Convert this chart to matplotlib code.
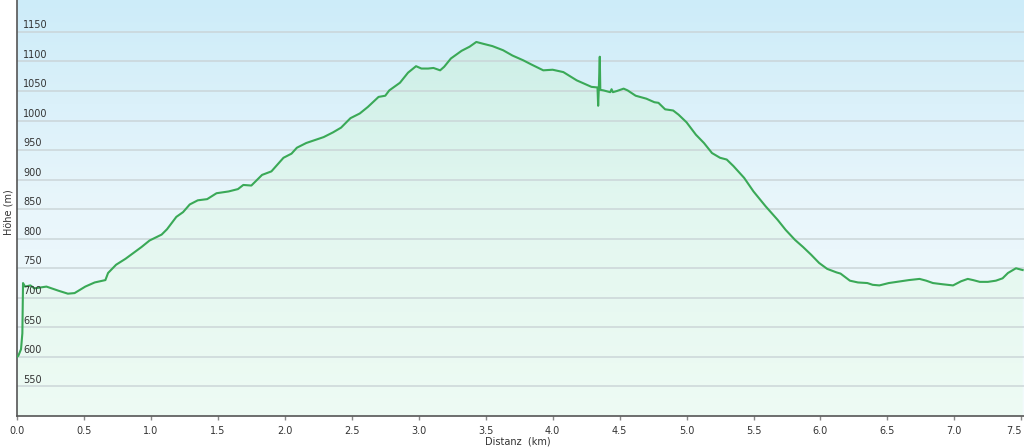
import numpy as np
import matplotlib
matplotlib.use("Agg")
import matplotlib.pyplot as plt
from matplotlib.colors import LinearSegmentedColormap
from matplotlib.patches import Polygon

distance_km = [0.00, 0.01, 0.03, 0.04, 0.045, 0.06, 0.10, 0.13, 0.22, 0.31, 0.38, 0.43,
               0.51, 0.58, 0.66, 0.68, 0.74, 0.81, 0.87, 0.93, 0.99, 1.08, 1.12,
               1.19, 1.24, 1.29, 1.35, 1.42, 1.49, 1.58, 1.65, 1.69, 1.75, 1.83,
               1.90, 1.99, 2.05, 2.09, 2.16, 2.29, 2.36, 2.42, 2.49, 2.56, 2.62,
               2.70, 2.75, 2.78, 2.86, 2.92, 2.98, 3.02, 3.07, 3.11, 3.16, 3.19,
               3.24, 3.32, 3.38, 3.43, 3.48, 3.55, 3.63, 3.70, 3.78, 3.84, 3.93,
               4.00, 4.08, 4.18, 4.29, 4.335, 4.340, 4.345, 4.352, 4.356, 4.38,
               4.43, 4.44, 4.45, 4.48, 4.53, 4.56, 4.62, 4.70, 4.76, 4.79, 4.84,
               4.90, 4.94, 5.00, 5.07, 5.13, 5.19, 5.25, 5.30, 5.35, 5.43, 5.50,
               5.59, 5.68, 5.74, 5.81, 5.87, 5.93, 5.99, 6.05, 6.12, 6.15, 6.22,
               6.28, 6.35, 6.39, 6.44, 6.51, 6.60, 6.66, 6.74, 6.79, 6.84, 6.91,
               6.99, 7.05, 7.10, 7.14, 7.19, 7.25, 7.31, 7.36, 7.40, 7.46, 7.51]
elevation_m = [600, 602, 613, 640, 725, 719, 721, 716, 719, 712, 707, 708,
               719, 726, 730, 742, 756, 766, 776, 786, 797, 807, 816,
               837, 845, 858, 865, 867, 877, 880, 884, 891, 890, 908,
               914, 937, 944, 954, 962, 972, 980, 988, 1004, 1012, 1023,
               1040, 1042, 1051, 1064, 1081, 1092, 1088, 1088, 1089, 1085, 1091,
               1105, 1118, 1125, 1133, 1130, 1126, 1119, 1110, 1102, 1095, 1085,
               1086, 1082, 1068, 1057, 1056, 1025, 1055, 1108, 1052, 1051,
               1048, 1053, 1048, 1050, 1054, 1051, 1042, 1037, 1031, 1030, 1019,
               1017, 1010, 997, 976, 962, 945, 937, 934, 923, 903, 880,
               855, 832, 815, 798, 786, 773, 759, 749, 743, 741, 729,
               726, 725, 722, 721, 725, 728, 730, 732, 729, 725, 723,
               721, 728, 732, 730, 727, 727, 729, 733, 742, 750, 747]

x_ticks = [0.0, 0.5, 1.0, 1.5, 2.0, 2.5, 3.0, 3.5, 4.0, 4.5, 5.0, 5.5, 6.0, 6.5, 7.0, 7.5]
y_ticks = [550, 600, 650, 700, 750, 800, 850, 900, 950, 1000, 1050, 1100, 1150]
x_label = "Distanz  (km)"
y_label = "Höhe (m)"

XMAX, YMIN, YMAX = 7.52, 500, 1204

fig = plt.figure(figsize=(10.24, 4.47), dpi=100)
ax = fig.add_axes([17 / 1024, 31 / 447, 1 - 17 / 1024, 1 - 31 / 447])
ax.set_xlim(0, XMAX)
ax.set_ylim(YMIN, YMAX)

# background gradient
bg_cmap = LinearSegmentedColormap.from_list("bg", ["#f3fbfd", "#e9f6fb", "#cdecf9"])
grad = np.linspace(0, 1, 256).reshape(-1, 1)
ax.imshow(grad, extent=[0, XMAX, YMIN, YMAX], origin="lower", aspect="auto",
          cmap=bg_cmap, zorder=0, interpolation="bicubic")

# fill under curve with gradient
fill_cmap = LinearSegmentedColormap.from_list("fill", ["#eefcf3", "#e2f8ee", "#c8eee3"])
fill_img = ax.imshow(grad, extent=[0, XMAX, YMIN, YMAX], origin="lower", aspect="auto",
                     cmap=fill_cmap, zorder=1, interpolation="bicubic", alpha=0.85)
verts = [(distance_km[0], YMIN)] + list(zip(distance_km, elevation_m)) + [(distance_km[-1], YMIN)]
poly = Polygon(verts, closed=True, transform=ax.transData, facecolor="none", edgecolor="none")
ax.add_patch(poly)
fill_img.set_clip_path(poly)

# gridlines (visible through the fill)
for yv in y_ticks:
    ax.axhline(yv, color="#c9d3d6", lw=1.2, alpha=0.85, zorder=2)

ax.plot(distance_km, elevation_m, color="#3aa957", lw=1.5, zorder=3, solid_joinstyle="round")

# y tick labels drawn inside the axes, above the gridlines
ax.set_yticks([])
for yv in y_ticks:
    ax.text(6 / 1007 * XMAX, yv + 3, str(yv), fontsize=7, color="#333333",
            ha="left", va="bottom", zorder=4)

ax.set_xticks(x_ticks)
ax.set_xticklabels([f"{v:.1f}" for v in x_ticks], fontsize=7, color="#333333")
ax.tick_params(axis="x", direction="out", length=3, width=1, color="#888888", pad=4)
last_label = ax.get_xticklabels()[-1]
last_label.set_horizontalalignment("right")
for lbl in ax.get_xticklabels()[:-1]:
    lbl.set_horizontalalignment("center")

for s in ["top", "right"]:
    ax.spines[s].set_visible(False)
for s in ["left", "bottom"]:
    ax.spines[s].set_color("#555555")
    ax.spines[s].set_linewidth(1.2)

fig.text(518 / 1024, 1 - 441 / 447, x_label, fontsize=7, color="#333333",
         ha="center", va="center")
fig.text(9 / 1024, 1 - 212 / 447, y_label, fontsize=7, color="#333333",
         ha="center", va="center", rotation=90)

fig.savefig("out.png", dpi=100)
